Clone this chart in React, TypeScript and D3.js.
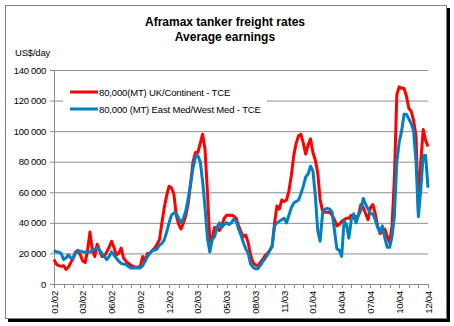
import React from "react";
import * as d3 from "d3";

// Weekly average earnings, thousand US$/day, Jan 2002 – Dec 2004
const ukContinent: number[] = [
  16, 13, 12, 11.5, 12, 9.5, 11, 14, 17, 21, 22, 19, 15, 14, 22, 34, 22, 18, 26, 22,
  18, 18, 21, 24, 28, 24, 19, 20, 23.5, 17, 15, 13.5, 12.5, 11.5, 11, 11, 11.5, 18, 15, 20,
  20, 22, 23.5, 26, 29, 40, 50, 58, 64, 63, 59, 45, 39, 36, 40, 45, 53, 66, 80, 86,
  86, 92, 98, 88, 60, 28, 30, 37, 37, 35, 38, 43, 45, 45, 45, 44.5, 43, 38, 34, 31,
  32, 27, 19, 14, 12.5, 12, 14, 16, 18.5, 20, 22, 24.5, 40, 51, 49, 55, 54, 55, 61, 71,
  84, 92, 97, 98, 92, 85, 91, 95, 86, 81, 73, 55, 48, 47, 47, 47, 45, 42, 38, 39,
  41, 42, 43, 43, 45, 43, 44, 45, 52, 50, 46, 42, 50, 52, 46, 38, 33, 34, 36, 31,
  27, 38, 70, 124, 129, 128, 128, 123, 115, 113, 107, 97, 48, 80, 101, 94, 90,
];

const eastMedWestMed: number[] = [
  22, 21, 21, 20, 16, 17, 19, 17, 17, 20, 21.5, 21.5, 21, 21, 21, 21, 22, 23, 23.5, 22,
  20, 18, 16, 18, 21, 19, 17, 15, 13.5, 13, 13, 11.5, 10.5, 10.5, 10.5, 10.5, 10.5, 12, 15, 18,
  20, 22, 22, 23, 25.5, 26.5, 29, 34, 40, 45, 46.5, 46, 43, 40, 43, 48, 56, 66, 76, 83,
  84, 80, 67, 50, 30, 21, 29, 31, 37, 40, 37, 39, 40, 39, 40, 42.5, 41, 36, 32, 27,
  23, 20, 13, 11, 10, 10, 12, 14.5, 16.5, 19, 22, 25, 38, 40, 41, 42, 43, 40, 45, 50,
  53, 54, 55, 59, 64, 70, 72, 77, 74, 58, 35, 28, 46, 49, 49.5, 49, 47, 35, 23, 22,
  18, 41, 39, 30, 42, 46, 40, 45, 48, 56, 52, 49, 46, 46, 42, 37, 34, 38, 30, 24,
  24, 31, 45, 80, 93, 100, 111, 111, 108, 105, 100, 80, 44, 62, 84, 84, 63,
];

const seriesNames: string[] = [
  "80,000(MT) UK/Continent - TCE",
  "80,000 (MT) East Med/West Med - TCE",
];
const seriesColors: string[] = ["#ff0000", "#0080c0"];

const xTickLabels: string[] = [
  "01/02", "03/02", "06/02", "09/02", "12/02", "02/03", "05/03",
  "08/03", "11/03", "01/04", "04/04", "07/04", "10/04", "12/04",
];
const yTicks: number[] = [0, 20, 40, 60, 80, 100, 120, 140];

const W = 454;
const H = 326;
const plot = { left: 54, right: 428, top: 70, bottom: 284 };
const FONT = "Arial, 'Liberation Sans', sans-serif";

export default function App() {
  const n = ukContinent.length;
  const x = d3.scaleLinear().domain([0, n - 1]).range([plot.left, plot.right]);
  const y = d3.scaleLinear().domain([0, 140]).range([plot.bottom, plot.top]);
  const line = d3
    .line<number>()
    .x((_, i) => x(i))
    .y((d) => y(d));

  const labelStep = (n - 1) / (xTickLabels.length - 1);
  const minorTicks = d3.range(0, n, labelStep / 3);
  const fmt = (v: number) =>
    v === 0 ? "0" : `${v} 000`;

  const grid = "#8c8c8c";
  const series = [ukContinent, eastMedWestMed];

  return (
    <svg
      width={W}
      height={H}
      style={{ position: "absolute", left: 0, top: 0, background: "#fff" }}
      fontFamily={FONT}
    >
      <rect x={0} y={0} width={W} height={H} fill="#fff" />
      {/* frame with shadow */}
      <rect x={447} y={8} width={3} height={314} fill="#000" />
      <rect x={8} y={319} width={442} height={3} fill="#000" />
      <rect x={5.5} y={5.5} width={441} height={313} fill="#fff" stroke="#808080" />

      {/* title */}
      <text x={225} y={26} textAnchor="middle" fontWeight="bold" fontSize={12}>
        Aframax tanker freight rates
      </text>
      <text x={225} y={41} textAnchor="middle" fontWeight="bold" fontSize={12}>
        Average earnings
      </text>
      <text x={15} y={56} fontSize={9.5} letterSpacing={-0.2}>
        US$/day
      </text>

      {/* gridlines & y axis */}
      {yTicks.map((t) => (
        <g key={t}>
          {t > 0 && (
            <line x1={plot.left} x2={plot.right} y1={y(t) + 0.5} y2={y(t) + 0.5} stroke={grid} />
          )}
          <line x1={plot.left - 4} x2={plot.left} y1={y(t) + 0.5} y2={y(t) + 0.5} stroke={grid} />
          <text
            x={46}
            y={y(t) + 3.5}
            textAnchor="end"
            fontSize={9.5}
            letterSpacing={-0.3}
          >
            {fmt(t)}
          </text>
        </g>
      ))}
      <line x1={plot.left + 0.5} x2={plot.left + 0.5} y1={plot.top} y2={plot.bottom} stroke={grid} />
      <line x1={plot.left} x2={plot.right + 1} y1={plot.bottom + 0.5} y2={plot.bottom + 0.5} stroke={grid} />

      {/* x ticks */}
      {minorTicks.map((t, i) => (
        <line
          key={i}
          x1={Math.round(x(t)) + 0.5}
          x2={Math.round(x(t)) + 0.5}
          y1={plot.bottom}
          y2={plot.bottom + 4}
          stroke={grid}
        />
      ))}
      {xTickLabels.map((lab, i) => {
        const px = x(i * labelStep) + 3.5;
        return (
          <text
            key={lab}
            transform={`translate(${px},${plot.bottom + 7}) rotate(-90)`}
            textAnchor="end"
            fontSize={9.5}
            letterSpacing={-0.2}
          >
            {lab}
          </text>
        );
      })}

      {/* legend background */}
      <rect x={63} y={80} width={204} height={38} fill="#fff" />

      {/* series */}
      {series.map((s, i) => (
        <path
          key={i}
          d={line(s) || ""}
          fill="none"
          stroke={seriesColors[i]}
          strokeWidth={3}
          strokeLinejoin="round"
        />
      ))}

      {/* legend */}
      {seriesNames.map((name, i) => (
        <g key={name} transform={`translate(0,${92 + i * 17})`}>
          <line x1={70} x2={98} y1={0} y2={0} stroke={seriesColors[i]} strokeWidth={3} />
          <text x={99} y={3.5} fontSize={9.5} letterSpacing={-0.15}>
            {name}
          </text>
        </g>
      ))}
    </svg>
  );
}
